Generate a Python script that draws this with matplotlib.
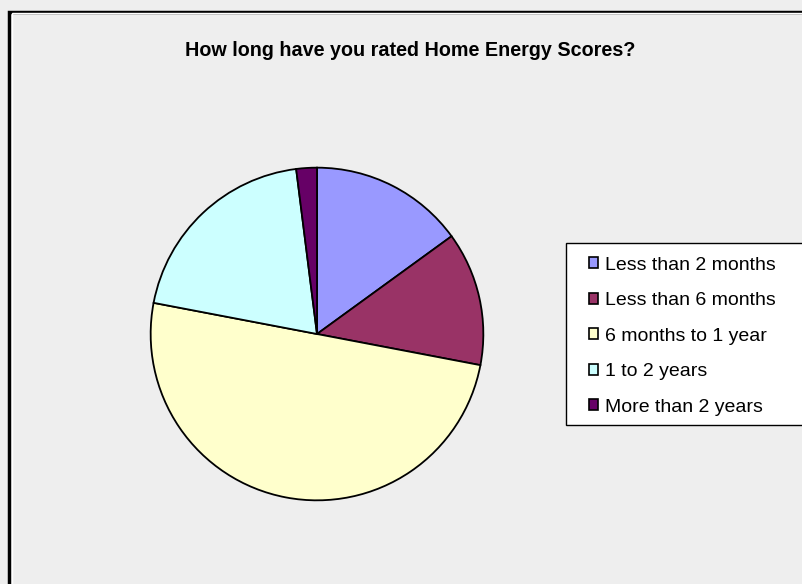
import matplotlib.pyplot as plt
from matplotlib.patches import Rectangle, Patch

plt.rcParams['font.family'] = ['Liberation Sans', 'DejaVu Sans']

# data
categories = ['Less than 2 months', 'Less than 6 months', '6 months to 1 year',
              '1 to 2 years', 'More than 2 years']
shares = [15, 13, 50, 20, 2]
colors = ['#9999FF', '#993366', '#FFFFCC', '#CCFFFF', '#660066']

W, H = 803, 584
fig = plt.figure(figsize=(W / 100, H / 100), dpi=100)
fig.patch.set_facecolor('#EEEEEE')

# outer frame (right and bottom are cut off in the original)
fig.patches.append(Rectangle((9.5 / W, -0.1), 1.2, 1 - 11.5 / H + 0.1,
                             transform=fig.transFigure, fill=False,
                             edgecolor='black', linewidth=2.5))
fig.patches.append(Rectangle((12 / W, -0.1), 1.2, 1 - 13.5 / H + 0.1,
                             transform=fig.transFigure, fill=False,
                             edgecolor='white', linewidth=1))

fig.text(410 / W, 1 - 51 / H, 'How long have you rated Home Energy Scores?',
         ha='center', va='center', fontsize=14.2, fontweight='bold')

# pie
cx, cy, r = 317, 334, 168
ax = fig.add_axes([(cx - r) / W, (H - cy - r) / H, 2 * r / W, 2 * r / H])
ax.pie(shares, colors=colors, startangle=90, counterclock=False,
       wedgeprops=dict(edgecolor='black', linewidth=1.3))
ax.set_xlim(-1.01, 1.01)
ax.set_ylim(-1.01, 1.01)
ax.axis('off')

# legend box
fig.patches.append(Rectangle((566 / W, 1 - 425 / H), 0.5, (425 - 243) / H,
                             transform=fig.transFigure, facecolor='white',
                             edgecolor='black', linewidth=1))
handles = [Patch(facecolor=c, edgecolor='black', linewidth=1.2) for c in colors]
fig.legend(handles, categories, loc='upper left',
           bbox_to_anchor=(575 / W, 1 - 243 / H), frameon=False,
           fontsize=14, handlelength=0.5, handleheight=0.5, handletextpad=0.35,
           labelspacing=0.95, borderpad=0.2)

fig.savefig('out.png', dpi=100, facecolor=fig.get_facecolor())
